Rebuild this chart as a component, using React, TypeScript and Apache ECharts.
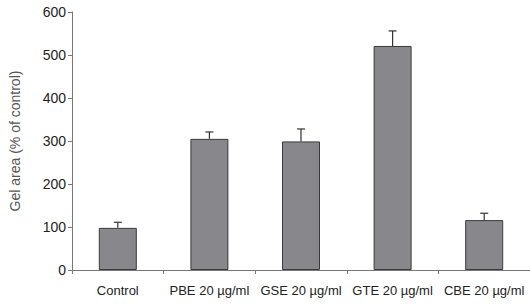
import React, { useEffect, useRef } from "react";
import * as echarts from "echarts";

const categories = ["Control", "PBE 20 µg/ml", "GSE 20 µg/ml", "GTE 20 µg/ml", "CBE 20 µg/ml"];
const values = [98, 305, 299, 521, 116];
const errors = [13, 16, 29, 35, 16];
const yTicks = { min: 0, max: 600, interval: 100 };

export default function App() {
  const ref = useRef<HTMLDivElement>(null);
  useEffect(() => {
    if (!ref.current) return;
    const chart = echarts.init(ref.current, null, { renderer: "svg" });
    const font = "Liberation Sans, Arial, sans-serif";
    chart.setOption({
      animation: false,
      backgroundColor: "#ffffff",
      grid: { left: 72, right: 0, top: 12, bottom: 34, containLabel: false },
      xAxis: {
        type: "category",
        data: categories,
        axisLine: { lineStyle: { color: "#777", width: 1 } },
        axisTick: { show: true, alignWithLabel: false, length: 4, lineStyle: { color: "#777" } },
        axisLabel: { color: "#222", fontSize: 13, fontFamily: font, margin: 14, interval: 0, hideOverlap: false },
      },
      yAxis: {
        type: "value",
        min: yTicks.min,
        max: yTicks.max,
        interval: yTicks.interval,
        name: "Gel area (% of control)",
        nameLocation: "middle",
        nameGap: 50,
        nameTextStyle: { color: "#555", fontSize: 14, fontFamily: font },
        axisLine: { show: true, lineStyle: { color: "#777", width: 1 } },
        axisTick: { show: true, length: 4, lineStyle: { color: "#777" } },
        axisLabel: { color: "#222", fontSize: 14, fontFamily: font, margin: 6 },
        splitLine: { show: false },
      },
      series: [
        {
          type: "bar",
          data: values,
          barWidth: 38,
          itemStyle: { color: "#88888c", borderColor: "#3a3a3a", borderWidth: 1 },
        },
        {
          type: "custom",
          data: values.map((v, i) => [i, v, v + errors[i]]),
          renderItem: (params: any, api: any) => {
            const i = api.value(0);
            const lo = api.coord([i, api.value(1)]);
            const hi = api.coord([i, api.value(2)]);
            const cap = 4;
            return {
              type: "group",
              children: [
                { type: "line", shape: { x1: lo[0], y1: lo[1], x2: hi[0], y2: hi[1] }, style: { stroke: "#333", lineWidth: 1.2 } },
                { type: "line", shape: { x1: hi[0] - cap, y1: hi[1], x2: hi[0] + cap, y2: hi[1] }, style: { stroke: "#333", lineWidth: 1.2 } },
              ],
            };
          },
          z: 3,
        },
      ],
    });
    return () => chart.dispose();
  }, []);
  return <div ref={ref} style={{ position: "fixed", left: 0, top: 0, width: 530, height: 304 }} />;
}
